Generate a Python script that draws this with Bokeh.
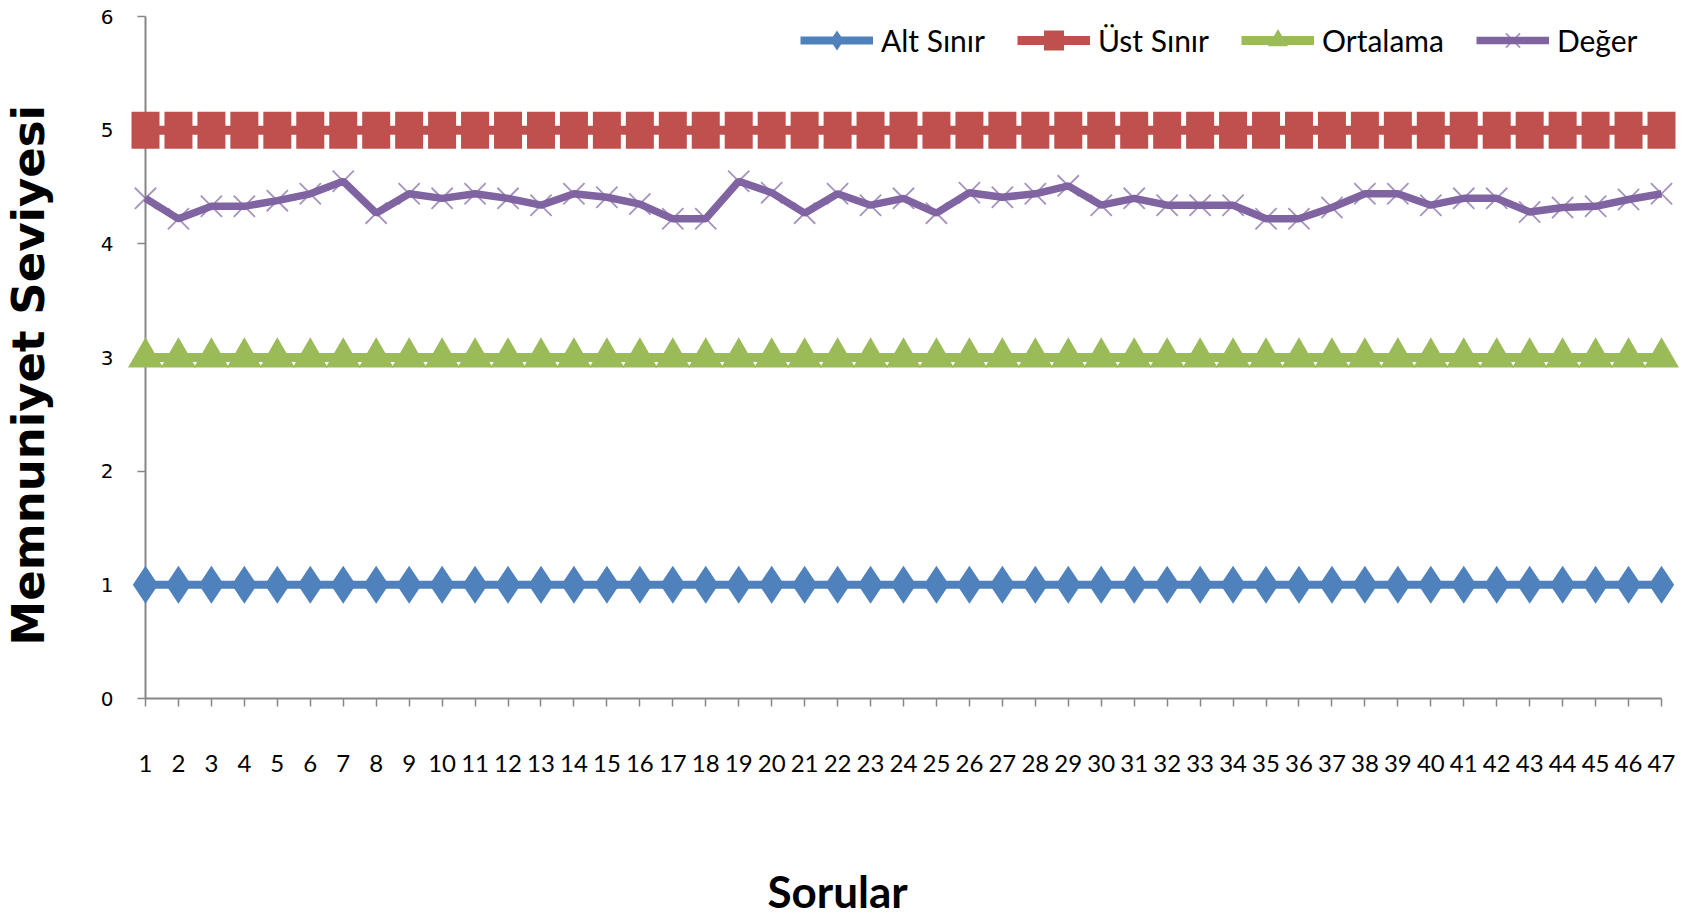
from bokeh.plotting import figure
from bokeh.models import Range1d, FixedTicker, Legend, LegendItem, Title
from bokeh.embed import file_html
from bokeh.resources import INLINE

# ---- data ----
sorular = list(range(1, 48))
alt_sinir = [1, 1, 1, 1, 1, 1, 1, 1, 1, 1, 1, 1, 1, 1, 1, 1, 1, 1, 1, 1, 1, 1, 1, 1,
             1, 1, 1, 1, 1, 1, 1, 1, 1, 1, 1, 1, 1, 1, 1, 1, 1, 1, 1, 1, 1, 1, 1]
ust_sinir = [5, 5, 5, 5, 5, 5, 5, 5, 5, 5, 5, 5, 5, 5, 5, 5, 5, 5, 5, 5, 5, 5, 5, 5,
             5, 5, 5, 5, 5, 5, 5, 5, 5, 5, 5, 5, 5, 5, 5, 5, 5, 5, 5, 5, 5, 5, 5]
ortalama = [3, 3, 3, 3, 3, 3, 3, 3, 3, 3, 3, 3, 3, 3, 3, 3, 3, 3, 3, 3, 3, 3, 3, 3,
            3, 3, 3, 3, 3, 3, 3, 3, 3, 3, 3, 3, 3, 3, 3, 3, 3, 3, 3, 3, 3, 3, 3]
deger = [4.40, 4.22, 4.33, 4.33, 4.38, 4.44, 4.55, 4.27, 4.44, 4.40,
         4.44, 4.40, 4.34, 4.44, 4.41, 4.35, 4.22, 4.22, 4.55, 4.45,
         4.27, 4.44, 4.34, 4.40, 4.27, 4.45, 4.41, 4.44, 4.51, 4.34,
         4.40, 4.34, 4.34, 4.34, 4.22, 4.22, 4.32, 4.44, 4.44, 4.34,
         4.40, 4.40, 4.28, 4.32, 4.33, 4.39, 4.44]
y_ticks = [0, 1, 2, 3, 4, 5, 6]
series_names = ["Alt Sınır", "Üst Sınır", "Ortalama", "Değer"]
x_title = "Sorular"
y_title = "Memnuniyet Seviyesi"

BLUE, RED, GREEN, PURPLE = "#4F81BD", "#C0504D", "#9BBB59", "#8064A2"
LABEL_FONT = "Lato"
AXIS_GRAY = "#868686"

p = figure(width=1696, height=921,
           x_range=Range1d(1, 47), y_range=Range1d(0, 6),
           output_backend="svg", toolbar_location=None,
           min_border_left=145, min_border_right=35,
           min_border_top=16, min_border_bottom=223)
p.outline_line_color = None
p.grid.visible = False
p.background_fill_color = "white"
p.border_fill_color = "white"

xa = p.xaxis[0]
ya = p.yaxis[0]
xa.ticker = FixedTicker(ticks=sorular)
ya.ticker = FixedTicker(ticks=y_ticks)
for ax in (xa, ya):
    ax.axis_line_color = AXIS_GRAY
    ax.axis_line_width = 2
    ax.major_tick_line_color = AXIS_GRAY
    ax.major_tick_line_width = 1.5
    ax.major_tick_out = 8
    ax.major_tick_in = 0
    ax.minor_tick_line_color = None
    ax.major_label_text_color = "black"

xa.major_label_text_font = LABEL_FONT
xa.major_label_text_font_size = "24px"
xa.major_label_standoff = 48

ya.major_label_text_font = "DejaVu Sans"
ya.major_label_text_font_size = "20px"
ya.major_label_standoff = 24

# axis titles as side-panel titles (padding order: left, right, top, bottom)
p.add_layout(Title(text=x_title, align="left", offset=622, vertical_align="top",
                   standoff=0, padding=(0, 0, 90, 0),
                   text_font=LABEL_FONT, text_font_style="bold",
                   text_font_size="44px", text_color="black"), "below")
p.add_layout(Title(text=y_title, align="left", offset=53, vertical_align="bottom",
                   standoff=0, padding=(0, 0, 0, 43),
                   text_font="DejaVu Sans", text_font_style="bold",
                   text_font_size="45px", text_color="black"), "left")

# Alt Sınır
l1 = p.line(sorular, alt_sinir, line_color=BLUE, line_width=8, level="overlay")
m1 = p.scatter(sorular, alt_sinir, marker="diamond", size=38,
               fill_color=BLUE, line_color=None, level="overlay")
# Üst Sınır
l2 = p.line(sorular, ust_sinir, line_color=RED, line_width=9, level="overlay")
p.rect(sorular, ust_sinir, width=28, height=37, width_units="screen",
       height_units="screen", fill_color=RED, line_color=None, level="overlay")
m2 = p.scatter(sorular, ust_sinir, marker="square", size=0,
               fill_color=RED, line_color=None, level="overlay")
# Ortalama
l3 = p.line(sorular, ortalama, line_color=GREEN, line_width=9, level="overlay")
m3 = p.scatter(sorular, ortalama, marker="triangle", size=35,
               fill_color=GREEN, line_color=None, level="overlay")
# Değer
l4 = p.line(sorular, deger, line_color=PURPLE, line_width=7.5, level="overlay")
m4 = p.scatter(sorular, deger, marker="x", size=30, line_color=PURPLE,
               line_alpha=0.7, line_width=1.8, level="overlay")

legend = Legend(items=[
    LegendItem(label=series_names[0], renderers=[l1, m1]),
    LegendItem(label=series_names[1], renderers=[l2, m2]),
    LegendItem(label=series_names[2], renderers=[l3, m3]),
    LegendItem(label=series_names[3], renderers=[l4, m4]),
], orientation="horizontal", location=(655, 633),
    glyph_width=73, glyph_height=50, label_standoff=8, spacing=32,
    padding=0, margin=0, border_line_color=None, background_fill_alpha=0,
    label_text_font=LABEL_FONT, label_text_font_size="30px",
    label_text_color="black")
p.add_layout(legend)

open("out.html", "w").write(file_html(p, INLINE))
